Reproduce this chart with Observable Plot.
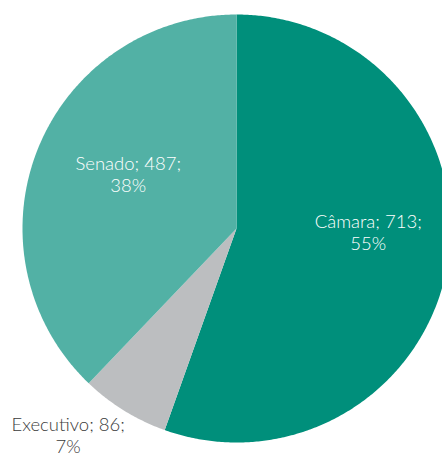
<!DOCTYPE html>
<html><head><meta charset="utf-8">
<script src="https://cdn.jsdelivr.net/npm/d3@7"></script>
<script src="https://cdn.jsdelivr.net/npm/@observablehq/plot@0.6"></script>
<style>body{margin:0;background:#fff;overflow:hidden}svg{display:block}</style>
</head><body><div id="chart"></div>
<script>
const categories = ["Câmara", "Executivo", "Senado"];
const values = [713, 86, 487];
const percents = ["55%", "7%", "38%"];
const colors = ["#008f7b", "#bcbec0", "#52b1a5"];

const W = 442, H = 457, CX = 236, CY = 228, R = 214;
const arcs = d3.pie().sort(null).startAngle(0).endAngle(2 * Math.PI)(values);

const poly = [];
arcs.forEach((a, i) => {
  poly.push({name: categories[i], x: 0, y: 0});
  const n = Math.max(2, Math.ceil((a.endAngle - a.startAngle) / (Math.PI / 360)));
  for (let k = 0; k <= n; k++) {
    const t = a.startAngle + (a.endAngle - a.startAngle) * k / n;
    poly.push({name: categories[i], x: Math.sin(t), y: Math.cos(t)});
  }
});

const labelR = [0.62, 1.25, 0.57];
const labelDx = [1, -28, 5];
const labelDy = [-19, -21, -9];
const labels = arcs.map((a, i) => {
  const t = (a.startAngle + a.endAngle) / 2;
  return {
    name: categories[i],
    text: `${categories[i]}; ${values[i]};\n${percents[i]}`,
    x: Math.sin(t) * labelR[i],
    y: Math.cos(t) * labelR[i],
    dx: labelDx[i], dy: labelDy[i],
    inside: i !== 1
  };
});

const chart = Plot.plot({
  width: W, height: H,
  margin: 0,
  x: {domain: [-CX / R, (W - CX) / R], axis: null},
  y: {domain: [-(H - CY) / R, CY / R], axis: null},
  color: {domain: categories, range: colors},
  style: {fontFamily: "Lato, 'Open Sans', sans-serif", background: "#fff"},
  marks: [
    Plot.line(poly, {x: "x", y: "y", z: "name", fill: "name", stroke: "none", curve: "linear-closed"}),
    ...labels.map(l => Plot.text([l], {
      x: "x", y: "y", text: "text", dx: l.dx, dy: l.dy,
      fill: l.inside ? "#ffffff" : "#3a3a3a",
      fontSize: 18.5, fontWeight: 300, lineHeight: 1.15
    }))
  ]
});
document.getElementById("chart").appendChild(chart);
</script>
</body></html>
